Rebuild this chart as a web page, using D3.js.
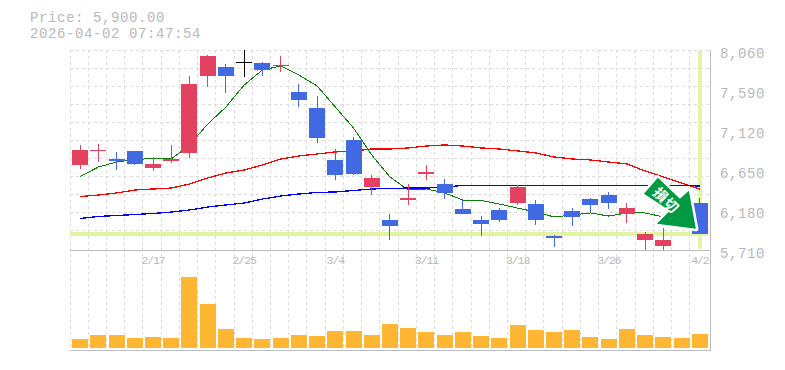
<!DOCTYPE html>
<html><head><meta charset="utf-8">
<script src="https://cdnjs.cloudflare.com/ajax/libs/d3/7.8.5/d3.min.js"></script>
<style>html,body{margin:0;padding:0;background:#fff}svg{display:block}</style>
</head><body><svg id="c" width="785" height="370"></svg>
<script>
const closePrice = 5900;
const stamp = "2026-04-02 07:47:54";
const opens  = [6709,6873,6779,6873,6674,6756,6850,7754,7860,7919,7907,7872,7566,7378,6768,7002,6450,6062,6297,6603,6486,6192,6062,6180,6262,6250,5874,6168,6309,6356,6133,5827,5757,6180,6262];
const closes = [6885,6885,6756,6721,6721,6779,7661,7990,7754,7919,7825,7884,7472,7026,6591,6603,6556,5992,6321,6626,6380,6133,6015,6062,6450,6062,5851,6098,6239,6262,6203,5898,5827,6062,5900];
const highs  = [6944,6956,6862,6873,6803,6944,7754,8001,7895,8060,7919,7990,7661,7519,6897,7038,6591,6133,6486,6709,6544,6297,6109,6203,6474,6297,5886,6203,6321,6391,6262,5921,5968,6203,6321];
const lows   = [6662,6744,6650,6709,6638,6732,6791,7625,7555,7743,7754,7801,7390,6967,6533,6591,6356,5827,6239,6533,6309,6133,5874,6039,6239,6004,5745,5992,6156,6192,6027,5710,5710,6039,5900];
const sma5   = [6574,6685,6744,6773,6785,6779,6944,7190,7390,7649,7825,7872,7766,7637,7390,7143,6826,6568,6415,6427,6380,6297,6292,6250,6203,6156,6098,6121,6145,6109,6145,6145,6098,6040,5990];
const sma25  = [6338,6356,6380,6415,6427,6438,6486,6556,6615,6650,6709,6779,6815,6838,6862,6873,6897,6897,6909,6932,6944,6932,6909,6897,6874,6850,6803,6779,6768,6744,6721,6638,6568,6497,6427];
const sma75  = [6080,6104,6115,6127,6139,6156,6180,6215,6239,6262,6309,6344,6368,6386,6392,6409,6427,6433,6438,6438,6450,6468,6468,6468,6468,6468,6468,6468,6468,6468,6468,6468,6468,6468,6462];
const volumes = [9,13,13,10,11,10,71,44,19,10,9,10,13,12,17,17,13,24,20,16,13,16,12,10,23,18,16,18,11,9,19,13,11,10,14];
const priceTicks = [8060,7590,7120,6650,6180,5710];
const dateTicks = [[4,"2/17"],[9,"2/25"],[14,"3/4"],[19,"3/11"],[24,"3/18"],[29,"3/26"],[34,"4/2"]];
const arrowLabel = "損切";

const UP="#e2425f", DOWN="#4169e1", FLAT="#000", GRID="#dcdcdc", AXIS="#bdbdbd", TXT="#b9b9b9", HL="#e2f5a2", VOL="#ffb733", GREEN="#0a7d0a", ARROW="#009944";
const FONT="'Liberation Mono','DejaVu Sans Mono',monospace";
const svg=d3.select("#c");
const idx=d3.range(opens.length);
const x=d3.scaleBand().domain(idx).range([71,709]).paddingInner(0.12).paddingOuter(0.06);
const cx=i=>x(i)+x.bandwidth()/2;
const y=d3.scaleLinear().domain([5710,8060]).range([250,50]);
const v=d3.scaleLinear().domain([0,100]).range([348,248]);
const snap=n=>Math.floor(n)+.5;

// grid
const grid=svg.append("g").attr("stroke",GRID).attr("stroke-dasharray","3,3").attr("shape-rendering","crispEdges");
d3.range(8060,5750,-211.5).forEach(p=>grid.append("line").attr("x1",70).attr("x2",710).attr("y1",snap(y(p))).attr("y2",snap(y(p))));
idx.forEach(i=>{const g=snap(x(i)-2.08);grid.append("line").attr("x1",g).attr("x2",g).attr("y1",50).attr("y2",350);});

// highlights
const hl=svg.append("g").attr("stroke",HL).attr("shape-rendering","crispEdges");
hl.append("line").attr("x1",70).attr("x2",708).attr("y1",Math.round(y(closePrice))).attr("y2",Math.round(y(closePrice))).attr("stroke-width",4);
hl.append("line").attr("x1",Math.ceil(cx(34))).attr("x2",Math.ceil(cx(34))).attr("y1",51).attr("y2",249).attr("stroke-width",4);

// frame
const fr=svg.append("g").attr("stroke",AXIS).attr("stroke-width",1).attr("shape-rendering","crispEdges");
fr.append("line").attr("x1",70).attr("x2",711).attr("y1",250.5).attr("y2",250.5);
fr.append("line").attr("x1",70).attr("x2",711).attr("y1",350.5).attr("y2",350.5);
fr.append("line").attr("x1",710.5).attr("x2",710.5).attr("y1",50).attr("y2",351);

// moving averages
const line=d3.line().x((d,i)=>cx(i)).y(d=>y(d));
[[sma5,GREEN,1],[sma25,"#f00",1.3],[sma75,"#00f",1.3]].forEach(([s,c,w])=>
  svg.append("path").attr("d",line(s)).attr("fill","none").attr("stroke",c).attr("stroke-width",w).attr("shape-rendering","crispEdges"));

// candles
const col=i=>closes[i]>opens[i]?UP:closes[i]<opens[i]?DOWN:FLAT;
const cg=svg.append("g").attr("shape-rendering","crispEdges");
idx.forEach(i=>{
  const c=col(i), xm=snap(cx(i));
  cg.append("line").attr("x1",xm).attr("x2",xm).attr("y1",y(highs[i])).attr("y2",y(lows[i])).attr("stroke",c);
  const t=y(Math.max(opens[i],closes[i])), b=y(Math.min(opens[i],closes[i]));
  cg.append("rect").attr("x",Math.round(x(i))).attr("y",Math.round(t)).attr("width",16).attr("height",Math.max(1,Math.round(b)-Math.round(t))).attr("fill",c);
});

// volume
svg.append("g").attr("shape-rendering","crispEdges").selectAll("rect").data(volumes).join("rect")
  .attr("x",(d,i)=>Math.round(x(i))).attr("width",16).attr("y",d=>v(d)).attr("height",d=>v(0)-v(d)).attr("fill",VOL);

// arrow annotation anchored on the last close
const tx=cx(34)-4, ty=y(closePrice)-5;
const arrowShape=[[-52,-35],[-38,-51],[-16,-30],[-7,-38],[0,0],[-39,-5],[-26,-18]];
const ag=svg.append("g").attr("transform",`translate(${tx},${ty})`);
const ad=d3.line()(arrowShape)+"Z";
ag.append("path").attr("d",ad).attr("fill","#fff").attr("stroke","#fff").attr("stroke-width",5).attr("stroke-linejoin","round");
ag.append("path").attr("d",ad).attr("fill",ARROW);
ag.append("text").text(arrowLabel).attr("transform","translate(-29,-29) rotate(45)").attr("text-anchor","middle").attr("dominant-baseline","central")
  .attr("font-family","'Noto Sans CJK JP'").attr("font-weight",700).attr("font-size",14).attr("letter-spacing",1).attr("fill","#fff");

// axes
const py=svg.append("g").attr("transform","translate(710,3)").call(d3.axisRight(y).tickValues(priceTicks).tickFormat(d3.format(",")).tickSize(0).tickPadding(10));
py.select(".domain").remove();
py.selectAll("text").attr("font-family",FONT).attr("font-size",14).attr("letter-spacing",.6).attr("fill",TXT);
const px=svg.append("g").attr("transform","translate(0,250)").call(d3.axisBottom(x).tickValues(dateTicks.map(d=>d[0])).tickFormat(d=>dateTicks.find(t=>t[0]===d)[1]).tickSize(0).tickPadding(6));
px.select(".domain").remove();
px.selectAll("text").attr("font-family",FONT).attr("font-size",11.5).attr("letter-spacing",-1.1).attr("fill",TXT);

// header
svg.append("text").attr("x",30).attr("y",22).text("Price: "+d3.format(",.2f")(closePrice)).attr("font-family",FONT).attr("font-size",14).attr("letter-spacing",.6).attr("fill",TXT);
svg.append("text").attr("x",30).attr("y",38).text(stamp).attr("font-family",FONT).attr("font-size",14).attr("letter-spacing",.6).attr("fill",TXT);
</script></body></html>
